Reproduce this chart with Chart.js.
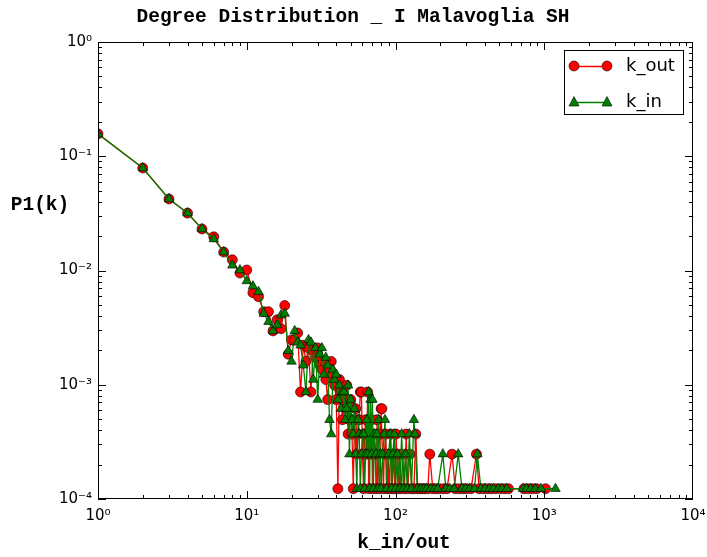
<!DOCTYPE html>
<html>
<head>
<meta charset="utf-8">
<title>Degree Distribution</title>
<script src="https://cdn.jsdelivr.net/npm/chart.js@4.4.1/dist/chart.umd.min.js"></script>
<style>
  html, body { margin: 0; padding: 0; background: #fff; }
  #degree-chart { display: block; }
</style>
</head>
<body>
<canvas id="degree-chart" width="707" height="557"></canvas>
<script>
"use strict";

// k_out series (red circles)
var kOut = [1, 2, 3, 4, 5, 6, 7, 8, 9, 10, 11, 12, 13, 14, 15, 16, 17, 18, 19, 20,
  21, 22, 23, 24, 25, 26, 27, 28, 29, 30, 31, 32, 33, 34, 35, 36, 37, 38, 39, 40,
  41, 42, 43, 44, 45, 46, 47, 48, 49, 50, 51, 52, 53, 54, 55, 56, 57, 58, 59, 60,
  61, 62, 63, 64, 65, 66, 67, 68, 69, 70, 72, 73, 74, 75, 76, 78, 79, 80, 81, 83,
  84, 86, 88, 89, 91, 93, 95, 97, 99, 101, 104, 106, 109, 112, 115, 118, 121, 125, 129, 133,
  137, 141, 146, 152, 158, 165, 170, 178, 188, 197, 210, 222, 240, 252, 268, 285, 300, 322, 350, 365,
  390, 415, 440, 470, 505, 540, 575, 730, 780, 830, 890, 1020];
var pOut = [0.157, 0.0789, 0.0423, 0.0318, 0.0231, 0.0197, 0.0145, 0.0124, 0.0095, 0.0101,
  0.0064, 0.0059, 0.00436, 0.00436, 0.00296, 0.0037, 0.00309, 0.00494, 0.00185, 0.00247,
  0.00247, 0.00284, 0.000864, 0.00222, 0.0016, 0.0021, 0.000864, 0.00198, 0.00173, 0.0021,
  0.00148, 0.00136, 0.0016, 0.00111, 0.000741, 0.00136, 0.0016, 0.00123, 0.000988, 0.000741,
  0.000123, 0.00111, 0.000864, 0.000494, 0.000741, 0.000617, 0.000988, 0.00037, 0.000494, 0.000741,
  0.00037, 0.000123, 0.000494, 0.000617, 0.000247, 0.00037, 0.000494, 0.000864, 0.000864, 0.000247,
  0.000123, 0.00037, 0.000494, 0.000247, 0.000864, 0.000123, 0.00037, 0.000247, 0.000494, 0.000123,
  0.00037, 0.000247, 0.000123, 0.000494, 0.000247, 0.000123, 0.00037, 0.000617, 0.000617, 0.000123,
  0.000247, 0.00037, 0.000123, 0.000247, 0.000123, 0.00037, 0.000123, 0.000247, 0.000123, 0.00037,
  0.000123, 0.000247, 0.000123, 0.000247, 0.000123, 0.00037, 0.000123, 0.000247, 0.000123, 0.000123,
  0.00037, 0.000123, 0.000123, 0.000123, 0.000123, 0.000123, 0.000247, 0.000123, 0.000123, 0.000123,
  0.000123, 0.000123, 0.000247, 0.000123, 0.000123, 0.000123, 0.000123, 0.000123, 0.000247, 0.000123,
  0.000123, 0.000123, 0.000123, 0.000123, 0.000123, 0.000123, 0.000123, 0.000123, 0.000123, 0.000123,
  0.000123, 0.000123];

// k_in series (green triangles)
var kIn = [1, 2, 3, 4, 5, 6, 7, 8, 9, 10, 11, 12, 13, 14, 15, 16, 17, 18, 19, 20,
  21, 22, 23, 24, 25, 26, 27, 28, 29, 30, 31, 32, 33, 34, 35, 36, 37, 38, 39, 40,
  41, 42, 43, 44, 45, 46, 47, 48, 49, 50, 51, 52, 53, 54, 55, 56, 57, 58, 59, 60,
  61, 62, 63, 64, 65, 66, 67, 68, 69, 70, 71, 72, 74, 75, 76, 77, 79, 80, 82, 84,
  85, 87, 90, 92, 94, 96, 98, 100, 103, 107, 110, 113, 117, 120, 124, 128, 133, 135, 140, 148,
  155, 162, 172, 182, 192, 208, 218, 232, 248, 264, 280, 296, 315, 340, 355, 375, 400, 428, 455, 490,
  520, 560, 720, 760, 810, 870, 950, 1190];
var pIn = [0.157, 0.0789, 0.0423, 0.0318, 0.0231, 0.0189, 0.0145, 0.0111, 0.0101, 0.0081,
  0.0073, 0.0065, 0.0042, 0.00356, 0.00296, 0.00333, 0.00407, 0.0042, 0.00198, 0.0016,
  0.00296, 0.00235, 0.00222, 0.00148, 0.000864, 0.00247, 0.00235, 0.00111, 0.0021, 0.000741,
  0.00185, 0.0021, 0.00123, 0.00173, 0.00148, 0.000494, 0.00037, 0.00136, 0.00111, 0.00123,
  0.000741, 0.000988, 0.000617, 0.000864, 0.000864, 0.000494, 0.000617, 0.000988, 0.000247, 0.000741,
  0.000494, 0.00037, 0.000617, 0.000247, 0.000123, 0.000494, 0.00037, 0.000123, 0.000247, 0.00037,
  0.00037, 0.000123, 0.000247, 0.000494, 0.000247, 0.000864, 0.000123, 0.000741, 0.000247, 0.000741,
  0.000123, 0.00037, 0.000247, 0.00037, 0.000123, 0.000494, 0.000247, 0.000123, 0.000247, 0.00037,
  0.000494, 0.000123, 0.000247, 0.00037, 0.000123, 0.000247, 0.00037, 0.000123, 0.000247, 0.000123,
  0.00037, 0.000123, 0.000247, 0.000123, 0.00037, 0.000123, 0.000494, 0.00037, 0.000123, 0.000123,
  0.000123, 0.000123, 0.000123, 0.000123, 0.000123, 0.000247, 0.000123, 0.000123, 0.000123, 0.000247,
  0.000123, 0.000123, 0.000123, 0.000123, 0.000247, 0.000123, 0.000123, 0.000123, 0.000123, 0.000123,
  0.000123, 0.000123, 0.000123, 0.000123, 0.000123, 0.000123, 0.000123, 0.000123];

// major ticks (decades)
var xTicks = [1, 10, 100, 1000, 10000];
var yTicks = [0.0001, 0.001, 0.01, 0.1, 1];

var RED = '#ff0000';
var GREEN = '#007f00';
var SUP = { '-': '\u207b', '0': '\u2070', '1': '\u00b9', '2': '\u00b2', '3': '\u00b3', '4': '\u2074' };

function powLabel(value) {
  var e = String(Math.round(Math.log10(value)));
  return '10' + e.split('').map(function (c) { return SUP[c]; }).join('');
}

function toPoints(ks, ps) {
  return ks.map(function (k, i) { return { x: k, y: ps[i] }; });
}

// frame + inward ticks on all four sides, like matplotlib
var frameTicks = {
  id: 'frameTicks',
  afterDatasetsDraw: function (chart) {
    var ctx = chart.ctx, a = chart.chartArea;
    var xs = chart.scales.x, ys = chart.scales.y;
    ctx.save();
    ctx.strokeStyle = '#000';
    ctx.lineWidth = 1;
    ctx.beginPath();
    for (var d = 0; d < 4; d++) {
      for (var m = 1; m < 10; m++) {
        var px = Math.round(xs.getPixelForValue(m * Math.pow(10, d))) + 0.5;
        var len = m === 1 ? 8 : 4;
        ctx.moveTo(px, a.bottom); ctx.lineTo(px, a.bottom - len);
        ctx.moveTo(px, a.top); ctx.lineTo(px, a.top + len);
      }
    }
    for (var dy = -4; dy < 0; dy++) {
      for (var my = 1; my < 10; my++) {
        var py = Math.round(ys.getPixelForValue(my * Math.pow(10, dy))) + 0.5;
        var leny = my === 1 ? 8 : 4;
        ctx.moveTo(a.left, py); ctx.lineTo(a.left + leny, py);
        ctx.moveTo(a.right, py); ctx.lineTo(a.right - leny, py);
      }
    }
    ctx.stroke();
    ctx.strokeRect(a.left + 0.5, a.top + 0.5, a.right - a.left - 1, a.bottom - a.top - 1);
    ctx.restore();
  },
  afterDraw: function (chart) {
    var ctx = chart.ctx;
    ctx.save();
    // title and axis labels
    ctx.fillStyle = '#000';
    ctx.font = 'bold 19.5px "Liberation Mono", monospace';
    ctx.textAlign = 'center';
    ctx.textBaseline = 'middle';
    ctx.fillText('Degree Distribution _ I Malavoglia SH', 353, 17);
    ctx.fillText('k_in/out', 404, 543);
    ctx.fillText('P1(k)', 40, 205);

    // legend box
    var bx = 564, by = 50, bw = 119, bh = 64;
    ctx.fillStyle = '#fff';
    ctx.fillRect(bx, by, bw, bh);
    ctx.strokeStyle = '#000';
    ctx.lineWidth = 1;
    ctx.strokeRect(bx + 0.5, by + 0.5, bw, bh);
    var rows = [
      { label: 'k_out', color: RED, y: 66, shape: 'circle' },
      { label: 'k_in', color: GREEN, y: 102, shape: 'triangle' }
    ];
    rows.forEach(function (r) {
      ctx.strokeStyle = r.color;
      ctx.lineWidth = 1.3;
      ctx.beginPath();
      ctx.moveTo(574, r.y + 0.5); ctx.lineTo(607, r.y + 0.5);
      ctx.stroke();
      [574, 607].forEach(function (cx) {
        ctx.fillStyle = r.color;
        ctx.strokeStyle = '#000';
        ctx.lineWidth = 0.6;
        ctx.beginPath();
        if (r.shape === 'circle') {
          ctx.arc(cx, r.y, 5, 0, Math.PI * 2);
        } else {
          ctx.moveTo(cx, r.y - 5.5); ctx.lineTo(cx + 5, r.y + 4); ctx.lineTo(cx - 5, r.y + 4);
          ctx.closePath();
        }
        ctx.fill();
        ctx.stroke();
      });
      ctx.fillStyle = '#000';
      ctx.font = '18px "DejaVu Sans", sans-serif';
      ctx.textAlign = 'left';
      ctx.textBaseline = 'middle';
      ctx.fillText(r.label, 626, r.y);
    });
    ctx.restore();
  }
};

var ctx = document.getElementById('degree-chart').getContext('2d');
var degreeChart = new Chart(ctx, {
  type: 'line',
  data: {
    datasets: [{
      label: 'k_out',
      data: toPoints(kOut, pOut),
      borderColor: RED,
      backgroundColor: RED,
      borderWidth: 1.3,
      pointStyle: 'circle',
      pointRadius: 5,
      pointBorderColor: '#000',
      pointBorderWidth: 0.6,
      pointBackgroundColor: RED,
      tension: 0,
      clip: 0,
      order: 1
    }, {
      label: 'k_in',
      data: toPoints(kIn, pIn),
      borderColor: GREEN,
      backgroundColor: GREEN,
      borderWidth: 1.3,
      pointStyle: 'triangle',
      pointRadius: 5.5,
      pointBorderColor: '#000',
      pointBorderWidth: 0.6,
      pointBackgroundColor: GREEN,
      tension: 0,
      clip: 0,
      order: 0
    }]
  },
  options: {
    responsive: false,
    animation: false,
    devicePixelRatio: 1,
    layout: { padding: { left: 0, right: 14, top: 42, bottom: 0 } },
    plugins: {
      legend: { display: false },
      tooltip: { enabled: false },
      title: { display: false }
    },
    scales: {
      x: {
        type: 'logarithmic',
        min: 1,
        max: 10000,
        grid: { display: false, drawTicks: false },
        border: { display: false },
        afterBuildTicks: function (scale) {
          scale.ticks = xTicks.map(function (v) { return { value: v }; });
        },
        afterFit: function (scale) {
          scale.height = 58;
          scale.paddingLeft = 0;
          scale.paddingRight = 0;
        },
        ticks: {
          color: '#000',
          padding: 8,
          maxRotation: 0,
          autoSkip: false,
          font: { family: '"DejaVu Sans", sans-serif', size: 15 },
          callback: function (value) { return powLabel(value); }
        }
      },
      y: {
        type: 'logarithmic',
        min: 0.0001,
        max: 1,
        grid: { display: false, drawTicks: false },
        border: { display: false },
        afterBuildTicks: function (scale) {
          scale.ticks = yTicks.map(function (v) { return { value: v }; });
        },
        afterFit: function (scale) {
          scale.width = 98;
          scale.paddingTop = 0;
          scale.paddingBottom = 0;
        },
        ticks: {
          color: '#000',
          padding: 6,
          autoSkip: false,
          font: { family: '"DejaVu Sans", sans-serif', size: 15 },
          callback: function (value) { return powLabel(value); }
        }
      }
    }
  },
  plugins: [frameTicks]
});
</script>
</body>
</html>
